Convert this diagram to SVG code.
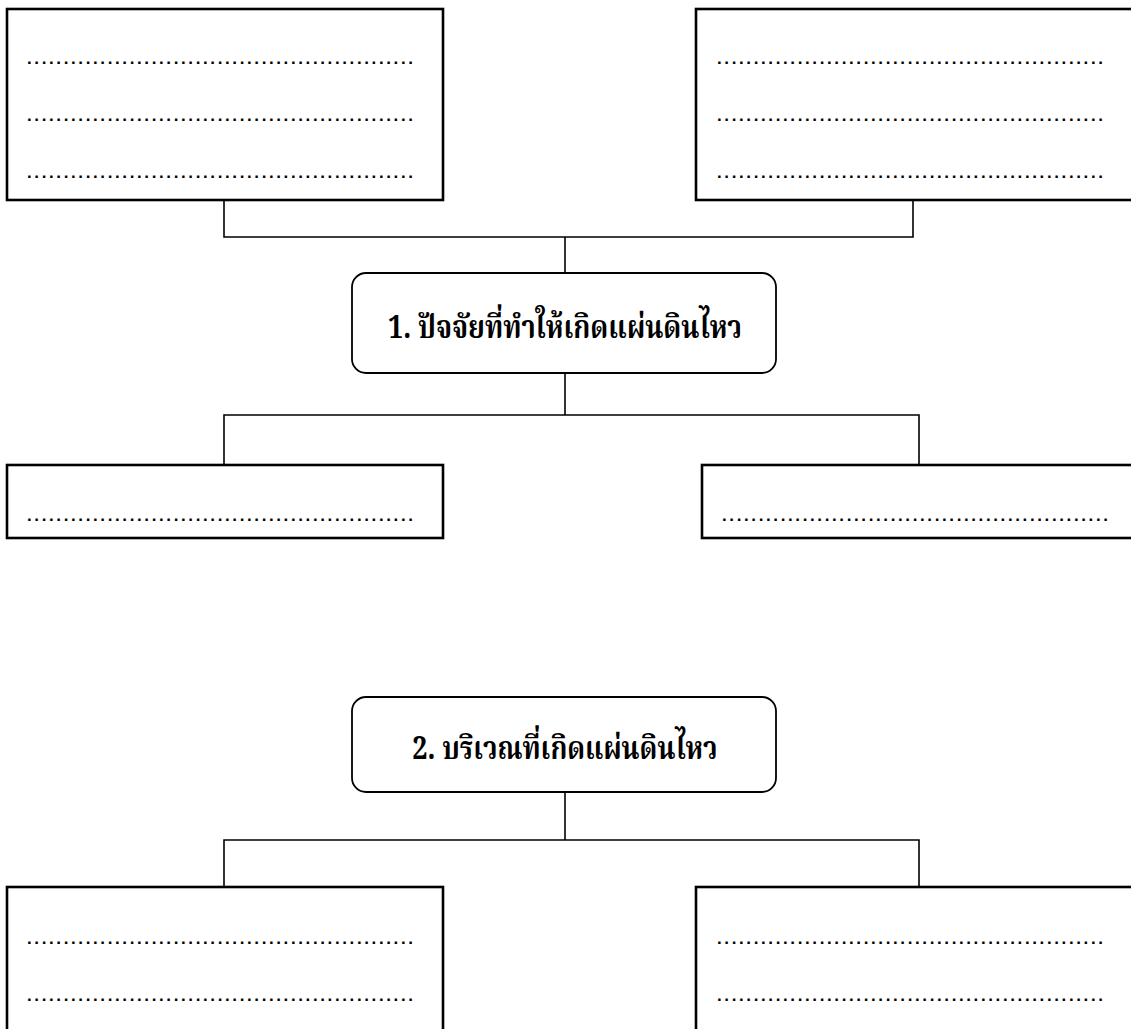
<svg xmlns="http://www.w3.org/2000/svg" width="1131" height="1029" viewBox="0 0 1131 1029">
<style>
.box{fill:#fff;stroke:#000;stroke-width:2.6}
.rbox{fill:#fff;stroke:#000;stroke-width:1.8}
.conn{fill:none;stroke:#000;stroke-width:1.6}
.dots{font-family:"Liberation Sans",sans-serif;font-size:17px;font-weight:bold;fill:#000}
.title{font-family:"Noto Serif Thai","Noto Sans Thai","Loma","Garuda","Tlwg Typo","DejaVu Sans",sans-serif;font-size:32px;font-weight:bold;fill:#000}
</style>
<rect width="1131" height="1029" fill="#fff"/>
<g id="connectors">
<polyline class="conn" points="224,200 224,237 913,237 913,200"/>
<line class="conn" x1="565" y1="237" x2="565" y2="273"/>
<line class="conn" x1="565" y1="373" x2="565" y2="415"/>
<polyline class="conn" points="224,465 224,415 919,415 919,465"/>
<line class="conn" x1="565" y1="792" x2="565" y2="840"/>
<polyline class="conn" points="224,887 224,840 919,840 919,887"/>
</g>
<g id="box-top-left">
<rect class="box" x="7" y="9" width="436" height="191"/>
<text class="dots" x="27" y="64" textLength="386" lengthAdjust="spacing">.....................................................</text>
<text class="dots" x="27" y="121" textLength="386" lengthAdjust="spacing">.....................................................</text>
<text class="dots" x="27" y="178" textLength="386" lengthAdjust="spacing">.....................................................</text>
</g>
<g id="box-top-right">
<rect class="box" x="696" y="9" width="437" height="191"/>
<text class="dots" x="717" y="64" textLength="386" lengthAdjust="spacing">.....................................................</text>
<text class="dots" x="717" y="121" textLength="386" lengthAdjust="spacing">.....................................................</text>
<text class="dots" x="717" y="178" textLength="386" lengthAdjust="spacing">.....................................................</text>
</g>
<g id="node-1">
<rect class="rbox" x="352" y="273" width="424" height="100" rx="14" ry="14"/>
<text class="title" x="565" y="338" text-anchor="middle" textLength="354" lengthAdjust="spacingAndGlyphs">1. ปัจจัยที่ทำให้เกิดแผ่นดินไหว</text>
</g>
<g id="box-mid-left">
<rect class="box" x="7" y="465" width="436" height="73"/>
<text class="dots" x="27" y="521" textLength="386" lengthAdjust="spacing">.....................................................</text>
</g>
<g id="box-mid-right">
<rect class="box" x="702" y="465" width="431" height="73"/>
<text class="dots" x="722" y="521" textLength="386" lengthAdjust="spacing">.....................................................</text>
</g>
<g id="node-2">
<rect class="rbox" x="352" y="697" width="424" height="95" rx="14" ry="14"/>
<text class="title" x="565" y="759" text-anchor="middle" textLength="305" lengthAdjust="spacingAndGlyphs">2. บริเวณที่เกิดแผ่นดินไหว</text>
</g>
<g id="box-bottom-left">
<rect class="box" x="7" y="887" width="436" height="160"/>
<text class="dots" x="27" y="944" textLength="386" lengthAdjust="spacing">.....................................................</text>
<text class="dots" x="27" y="1001" textLength="386" lengthAdjust="spacing">.....................................................</text>
</g>
<g id="box-bottom-right">
<rect class="box" x="696" y="887" width="437" height="160"/>
<text class="dots" x="717" y="944" textLength="386" lengthAdjust="spacing">.....................................................</text>
<text class="dots" x="717" y="1001" textLength="386" lengthAdjust="spacing">.....................................................</text>
</g>
</svg>
